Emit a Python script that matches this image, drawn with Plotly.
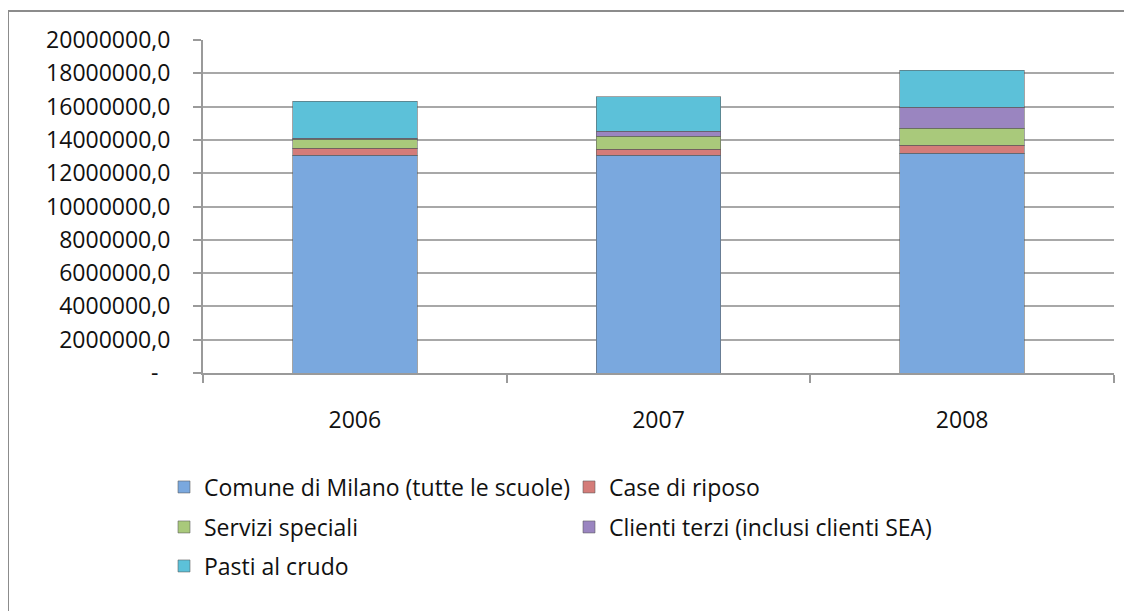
import plotly.graph_objects as go

years = ["2006", "2007", "2008"]
series_names = [
    "Comune di Milano (tutte le scuole)",
    "Case di riposo",
    "Servizi speciali",
    "Clienti terzi (inclusi clienti SEA)",
    "Pasti al crudo",
]
comune = [13090000, 13090000, 13210000]
case_riposo = [420000, 360000, 480000]
servizi = [540000, 780000, 1020000]
clienti = [50000, 300000, 1260000]
pasti = [2230000, 2050000, 2220000]
values = [comune, case_riposo, servizi, clienti, pasti]
colors = ["#7aa8de", "#d47c79", "#a9c97b", "#9a85c0", "#5cc1d9"]
legend_ids = ["legend", "legend", "legend2", "legend2", "legend3"]

tick_vals = [0, 2000000, 4000000, 6000000, 8000000, 10000000,
             12000000, 14000000, 16000000, 18000000, 20000000]
tick_text = ["-\u00a0\u00a0"] + [f"{v},0" for v in tick_vals[1:]]

FONT = "Open Sans"
fig = go.Figure()
for name, vals, col, lg in zip(series_names, values, colors, legend_ids):
    fig.add_trace(go.Bar(
        x=years, y=vals, name=name, legend=lg,
        marker=dict(color=col, line=dict(color="rgba(90,90,90,0.55)", width=1)),
    ))

W, H = 1132, 611
OFF = 8  # page body margin
# plot area in page coordinates
PL, PR, PT, PB = 203, 1114, 40, 373
L = PL - OFF
T = PT - OFF
R = W - (PR - OFF)
B = H - (PB - OFF)
pw = W - L - R
ph = H - T - B

def px_x(x):
    return (x - OFF - L) / pw

def px_y(y):
    return (H - B - (y - OFF)) / ph

legend_common = dict(
    orientation="h", xanchor="left", yanchor="middle",
    x=px_x(164), entrywidth=360, entrywidthmode="pixels", itemwidth=30,
    traceorder="normal",
    font=dict(family=FONT, size=23, color="#111111"),
    bgcolor="rgba(0,0,0,0)", itemclick=False, itemdoubleclick=False,
)

fig.update_layout(
    width=W, height=H,
    margin=dict(l=L, r=R, t=T, b=B),
    paper_bgcolor="white", plot_bgcolor="white",
    barmode="stack", bargap=0.59,
    font=dict(family=FONT, size=23, color="#111111"),
    showlegend=True,
    legend=dict(legend_common, y=px_y(487)),
    legend2=dict(legend_common, y=px_y(527)),
    legend3=dict(legend_common, y=px_y(566)),
    xaxis=dict(
        showline=True, linecolor="#9a9a9a", linewidth=2,
        ticks="outside", tickson="boundaries", ticklen=8,
        tickcolor="#9a9a9a", tickwidth=2, ticklabelstandoff=25,
        showgrid=False, tickfont=dict(family=FONT, size=23),
    ),
    yaxis=dict(
        range=[0, 20000000], tickvals=tick_vals, ticktext=tick_text,
        showline=True, linecolor="#9a9a9a", linewidth=2,
        ticks="outside", ticklen=8, tickcolor="#9a9a9a", tickwidth=2,
        showgrid=True, gridcolor="#a8a8a8", gridwidth=2,
        ticklabelstandoff=18, zeroline=False,
        tickfont=dict(family=FONT, size=23),
    ),
    shapes=[dict(
        type="rect", xref="paper", yref="paper",
        x0=px_x(8), x1=px_x(1150), y0=px_y(640), y1=px_y(11),
        line=dict(color="#8c8c8c", width=2), fillcolor="rgba(0,0,0,0)",
        layer="below",
    )],
)

fig.write_html("out.html")
